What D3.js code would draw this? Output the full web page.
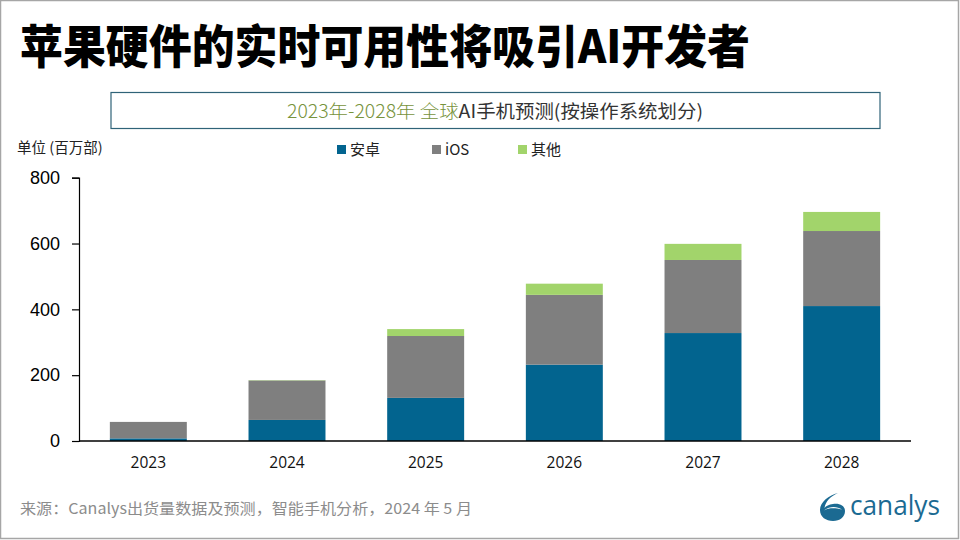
<!DOCTYPE html>
<html><head><meta charset="utf-8">
<script src="https://cdn.jsdelivr.net/npm/d3@7"></script>
<style>body{margin:0;background:#fff;}svg{display:block;font-family:"Noto Sans CJK SC","Noto Sans",sans-serif;}</style>
</head><body>
<svg id="c" width="960" height="540"></svg>
<script>
const years = ["2023","2024","2025","2026","2027","2028"];
const seriesNames = ["安卓","iOS","其他"];
const android = [8, 64, 131, 232, 328, 410];
const ios = [50, 120, 188, 212, 222, 228];
const other = [0, 1, 21, 34, 49, 58];
const yTicks = [0, 200, 400, 600, 800];
const colors = ["#02648f", "#7f7f7f", "#a2d46b"];

const svg = d3.select("#c");
svg.append("rect").attr("x",0.5).attr("y",0.5).attr("width",958).attr("height",538)
  .attr("fill","#fff").attr("stroke","#a6a6a6").attr("stroke-width",1.5);

// title
svg.append("text").attr("x",20).attr("y",63).attr("font-size",46).attr("font-weight",900)
  .attr("fill","#000").attr("textLength",730).attr("lengthAdjust","spacingAndGlyphs")
  .text("苹果硬件的实时可用性将吸引AI开发者");

// subtitle box
svg.append("rect").attr("x",111).attr("y",92.5).attr("width",769).attr("height",36)
  .attr("fill","none").attr("stroke","#2f6378").attr("stroke-width",1.2);
const st = svg.append("text").attr("x",495).attr("y",118).attr("text-anchor","middle")
  .attr("font-size",18.5).attr("font-weight",300).attr("textLength",416).attr("lengthAdjust","spacingAndGlyphs")
  .attr("font-family","'Noto Sans CJK SC',sans-serif");
st.append("tspan").attr("fill","#77933c").text("2023年-2028年 全球");
st.append("tspan").attr("fill","#333").attr("font-weight",400).text("AI手机预测(按操作系统划分)");

// unit label
svg.append("text").attr("x",17).attr("y",153).attr("font-size",14.5).attr("fill","#222")
  .text("单位 (百万部)");

// legend
const legX = [337, 432, 518];
seriesNames.forEach((n,i)=>{
  svg.append("rect").attr("x",legX[i]).attr("y",145).attr("width",9).attr("height",9).attr("fill",colors[i]);
  svg.append("text").attr("x",legX[i]+13).attr("y",155).attr("font-size",15).attr("fill","#222").text(n);
});

// scales
const x = d3.scaleBand().domain(years).range([79, 911]).paddingInner(0.445).paddingOuter(0.2225);
const y = d3.scaleLinear().domain([0, 800]).range([441, 177.7]);

const data = years.map((yr,i)=>({year:yr, a:android[i], i:ios[i], o:other[i]}));
const stack = d3.stack().keys(["a","i","o"])(data);

const g = svg.append("g");
stack.forEach((layer,k)=>{
  g.selectAll(null).data(layer).enter().append("rect")
    .attr("x", d=>x(d.data.year)).attr("width", x.bandwidth())
    .attr("y", d=>y(d[1])).attr("height", d=>Math.max(0, y(d[0])-y(d[1])))
    .attr("fill", colors[k]);
});

// y axis
const ya = svg.append("g").attr("transform","translate(79,0)")
  .call(d3.axisLeft(y).tickValues(yTicks).tickSize(7).tickPadding(12).tickFormat(d3.format("d")));
ya.select(".domain").attr("stroke","#000").attr("stroke-width",1.2);
ya.selectAll(".tick line").attr("stroke","#000").attr("stroke-width",1.2);
ya.selectAll(".tick text").attr("font-size",18).attr("fill","#000")
  .attr("font-family","'Liberation Sans',Arial,sans-serif");

// x axis
const xa = svg.append("g").attr("transform","translate(0,441)")
  .call(d3.axisBottom(x).tickSize(0).tickPadding(16));
xa.select(".domain").attr("stroke","#000").attr("stroke-width",1.4).attr("d","M79,0H911");
xa.selectAll(".tick text").attr("font-size",15.5).attr("fill","#111")
  .attr("font-family","'Open Sans','DejaVu Sans',sans-serif");

// source
svg.append("text").attr("x",20).attr("y",514).attr("font-size",15).attr("fill","#8c8c8c")
  .attr("textLength",452).attr("lengthAdjust","spacingAndGlyphs")
  .text("来源：Canalys出货量数据及预测，智能手机分析，2024 年 5 月");

// logo
const logo = svg.append("g").attr("transform","translate(818,488)");
logo.append("path").attr("fill","#1b6a92")
  .attr("d","M20,5 C11,7 2,14 2,22 C2,29 8,33 15,33 C22,33 27,29 27,23 C27,18 22,15 15,16 C11,16.5 8,18 6.5,20 C7.5,13 13,8 20,5 Z");
logo.append("path").attr("fill","#fff")
  .attr("d","M6,22.5 C10,20 16,19.5 24,21.5 C19,18 11,18 6,22.5 Z");
logo.append("text").attr("x",32).attr("y",27).attr("font-size",27).attr("fill","#1b6a92")
  .attr("font-family","'Open Sans','DejaVu Sans',sans-serif").attr("textLength",90).attr("lengthAdjust","spacingAndGlyphs").text("canalys");
</script>
</body></html>
